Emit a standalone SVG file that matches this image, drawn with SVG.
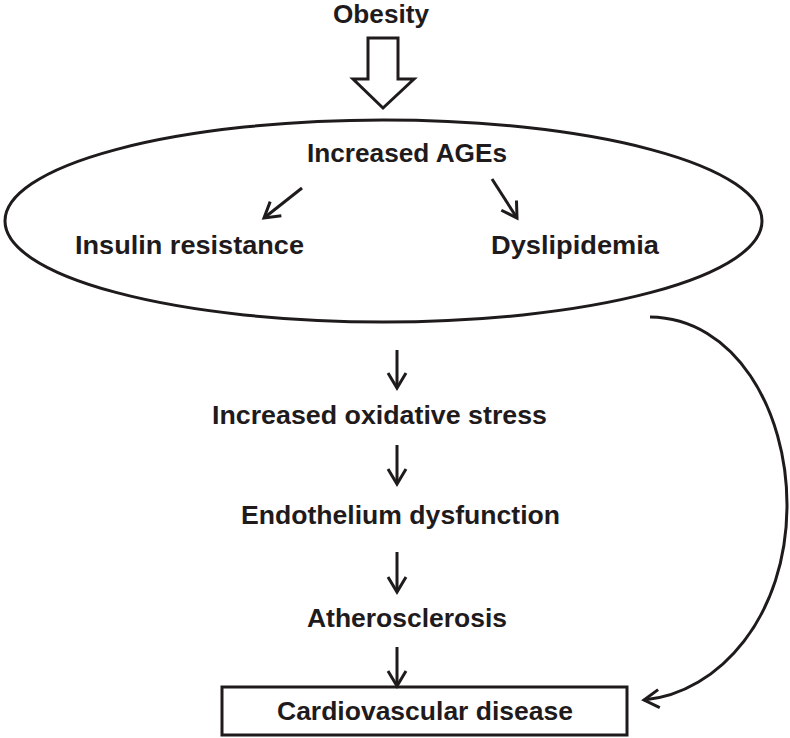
<svg xmlns="http://www.w3.org/2000/svg" width="790" height="738" viewBox="0 0 790 738">
  <defs>
    <style>
      .lbl { font-family: "Liberation Sans", Arial, sans-serif; font-weight: bold; font-size: 25px; fill: #1f1b1c; }
      .ln { fill: none; stroke: #1f1b1c; stroke-width: 3; }
    </style>
    <marker id="ah" markerUnits="userSpaceOnUse" markerWidth="20" markerHeight="22" viewBox="0 0 20 22" refX="17" refY="11" orient="auto">
      <path d="M2,2 L17,11 L2,20" fill="none" stroke="#1f1b1c" stroke-width="3" stroke-linejoin="miter"/>
    </marker>
  </defs>
  <rect width="790" height="738" fill="#ffffff"/>

  <g id="obesity">
    <text class="lbl" x="381" y="23" text-anchor="middle" textLength="96" lengthAdjust="spacingAndGlyphs">Obesity</text>
  </g>

  <g id="block-arrow">
    <polygon points="368,38 398,38 398,79 414,79 383,108 353,79 368,79" fill="#ffffff" stroke="#1f1b1c" stroke-width="3" stroke-linejoin="miter"/>
  </g>

  <g id="ages-group">
    <ellipse cx="383.5" cy="221" rx="378.5" ry="101" class="ln"/>
    <text class="lbl" x="407" y="162" text-anchor="middle" textLength="200" lengthAdjust="spacingAndGlyphs">Increased AGEs</text>
  </g>

  <g id="insulin">
    <text class="lbl" x="189.5" y="254" text-anchor="middle" textLength="229" lengthAdjust="spacingAndGlyphs">Insulin resistance</text>
  </g>

  <g id="dyslipidemia">
    <text class="lbl" x="575" y="254" text-anchor="middle" textLength="168" lengthAdjust="spacingAndGlyphs">Dyslipidemia</text>
  </g>

  <g id="oxidative">
    <text class="lbl" x="379.5" y="424" text-anchor="middle" textLength="335" lengthAdjust="spacingAndGlyphs">Increased oxidative stress</text>
  </g>

  <g id="endothelium">
    <text class="lbl" x="400.5" y="524" text-anchor="middle" textLength="319" lengthAdjust="spacingAndGlyphs">Endothelium dysfunction</text>
  </g>

  <g id="atherosclerosis">
    <text class="lbl" x="407" y="627" text-anchor="middle" textLength="200" lengthAdjust="spacingAndGlyphs">Atherosclerosis</text>
  </g>

  <g id="cvd">
    <rect x="222" y="687" width="405" height="48" class="ln"/>
    <text class="lbl" x="425" y="720" text-anchor="middle" textLength="296" lengthAdjust="spacingAndGlyphs">Cardiovascular disease</text>
  </g>

  <g id="connectors">
    <line x1="302" y1="188" x2="264" y2="218" class="ln" marker-end="url(#ah)"/>
    <line x1="492" y1="179" x2="517" y2="218" class="ln" marker-end="url(#ah)"/>
    <line x1="397" y1="350" x2="397" y2="388" class="ln" marker-end="url(#ah)"/>
    <line x1="397" y1="445" x2="397" y2="484" class="ln" marker-end="url(#ah)"/>
    <line x1="397" y1="552" x2="397" y2="592" class="ln" marker-end="url(#ah)"/>
    <line x1="397" y1="647" x2="397" y2="686" class="ln" marker-end="url(#ah)"/>
    <path d="M650,317 C735,318 787,410 787,505 C787,615 720,693 644,700" class="ln" marker-end="url(#ah)"/>
  </g>
</svg>
